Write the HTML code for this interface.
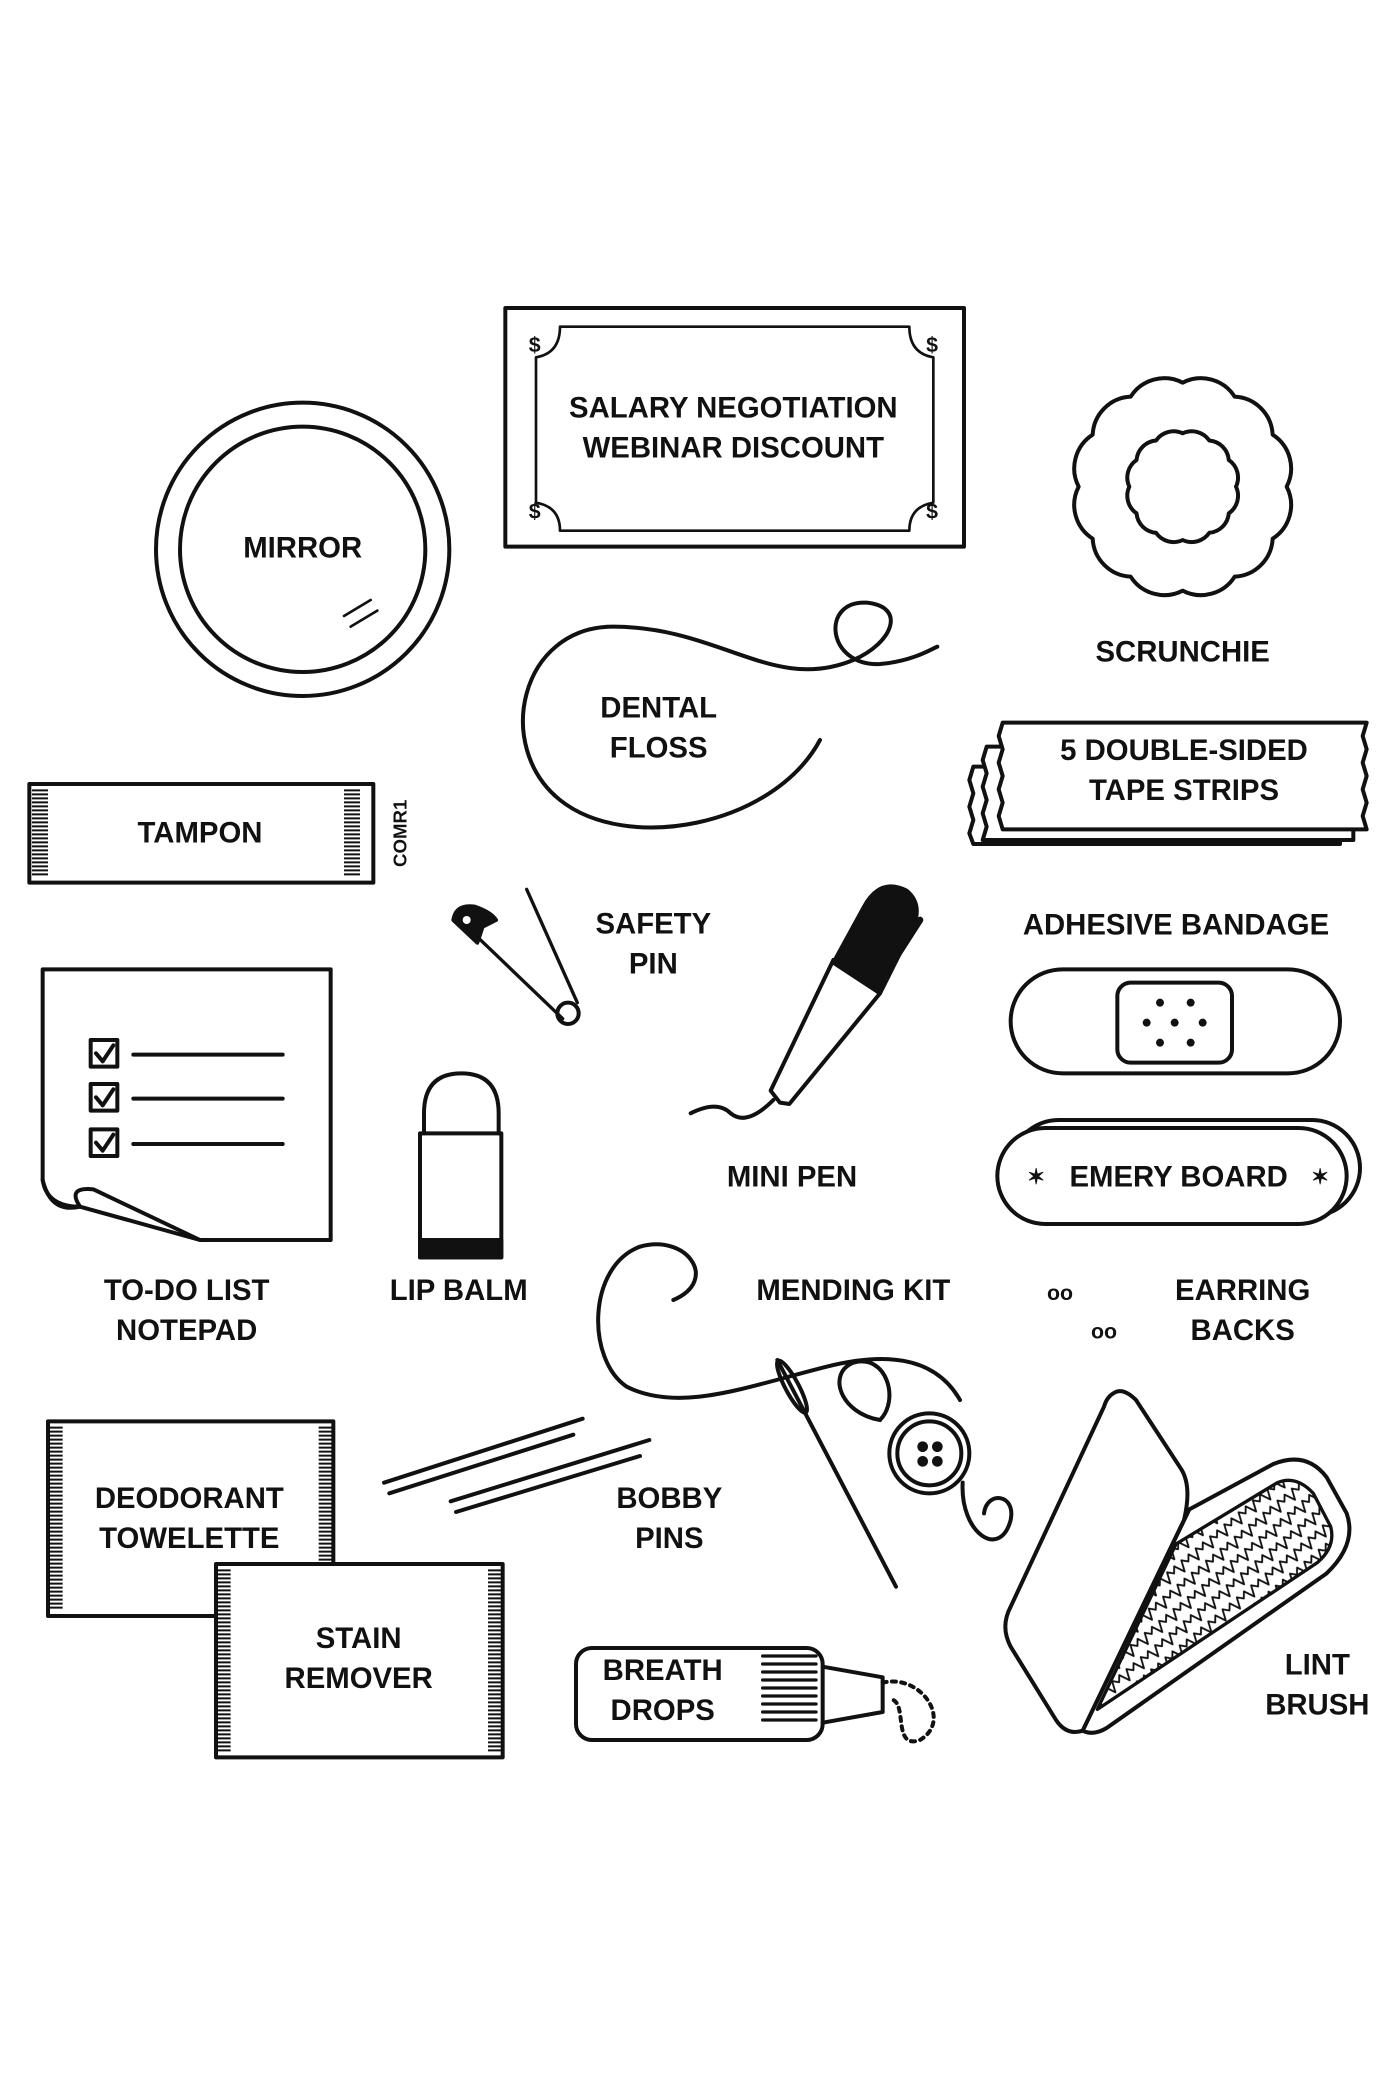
<!DOCTYPE html>
<html><head><meta charset="utf-8"><style>
html,body{margin:0;padding:0;background:#fff;}
svg{display:block;}
text{font-family:"Liberation Sans",sans-serif;font-weight:bold;font-size:22px;fill:#111;text-anchor:middle;}
</style></head><body>
<svg width="1400" height="2100" viewBox="0 0 1050 1575" xmlns="http://www.w3.org/2000/svg" fill="none" stroke="#111" stroke-width="3" stroke-linecap="round" stroke-linejoin="round">
<defs>
<pattern id="zz" width="14" height="12" patternUnits="userSpaceOnUse" patternTransform="rotate(-40)">
<path d="M0,6 l3.5,-4 l3.5,8 l3.5,-8 l3.5,4" stroke="#111" stroke-width="1.4" fill="none"/>
</pattern>
</defs>
<!-- Salary -->
<rect x="379" y="231" width="344" height="179"/>
<path d="M420,245 H682 Q682,265 700,268 V377 Q682,380 682,398 H420 Q420,380 402,377 V268 Q420,265 420,245Z" stroke-width="2"/>
<text x="401" y="264" style="font-size:16px" stroke="none">$</text><text x="699" y="264" style="font-size:16px" stroke="none">$</text>
<text x="401" y="389" style="font-size:16px" stroke="none">$</text><text x="699" y="389" style="font-size:16px" stroke="none">$</text>
<text x="550" y="313" stroke="none">SALARY NEGOTIATION</text>
<text x="550" y="343" stroke="none">WEBINAR DISCOUNT</text>
<!-- Mirror -->
<circle cx="227" cy="412" r="110"/><circle cx="227" cy="412" r="92"/>
<text x="227" y="418" stroke="none">MIRROR</text>
<path d="M258,462 L278,450 M263,470 L283,458" stroke-width="2"/>
<!-- Scrunchie -->
<path d="M965,365 A30,30 0 0 1 954.5,404 A30,30 0 0 1 926,432.5 A30,30 0 0 1 887,443 A30,30 0 0 1 848,432.5 A30,30 0 0 1 819.5,404 A30,30 0 0 1 809,365 A30,30 0 0 1 819.5,326 A30,30 0 0 1 848,297.5 A30,30 0 0 1 887,287 A30,30 0 0 1 926,297.5 A30,30 0 0 1 954.5,326 A30,30 0 0 1 965,365Z"/>
<path d="M927,365 A16,16 0 0 1 921.6,385 A16,16 0 0 1 907,399.6 A16,16 0 0 1 887,405 A16,16 0 0 1 867,399.6 A16,16 0 0 1 852.4,385 A16,16 0 0 1 847,365 A16,16 0 0 1 852.4,345 A16,16 0 0 1 867,330.4 A16,16 0 0 1 887,325 A16,16 0 0 1 907,330.4 A16,16 0 0 1 921.6,345 A16,16 0 0 1 927,365Z"/>
<text x="887" y="496" stroke="none">SCRUNCHIE</text>
<!-- Dental floss -->
<path d="M615,555 C580,620 470,640 420,600 C370,560 390,470 460,470 C540,470 580,520 640,495 C670,482 680,455 650,452 C615,450 620,500 660,498 C685,496 700,486 703,485"/>
<text x="494" y="538" stroke="none">DENTAL</text><text x="494" y="568" stroke="none">FLOSS</text>
<!-- Tape strips -->
<path d="M730,575 l-3,10 l3,10 l-3,10 l3,10 l-3,10 l3,8 H1005 V575Z" fill="#fff"/>
<path d="M740,560 l-3,10 l3,10 l-3,10 l3,10 l-3,10 l3,10 l-3,10 H1015 V560Z" fill="#fff"/>
<path d="M752,542 l-3,10 l3,10 l-3,10 l3,10 l-3,10 l3,10 l-3,10 l3,10 H1025 l-3,-10 l3,-10 l-3,-10 l3,-10 l-3,-10 l3,-10 l-3,-10 l3,-10Z" fill="#fff"/>
<text x="888" y="570" stroke="none">5 DOUBLE-SIDED</text><text x="888" y="600" stroke="none">TAPE STRIPS</text>
<!-- Tampon -->
<rect x="22" y="588" width="258" height="74"/>
<path d="M30,592 V658 M264,592 V658" stroke-width="12" stroke-dasharray="1.5 1.5" stroke-linecap="butt"/>
<text x="150" y="632" stroke="none">TAMPON</text>
<text transform="translate(305,625) rotate(-90)" style="font-size:14px" stroke="none">COMR1</text>
<!-- Safety pin -->
<path d="M350,695 L422,764 M395,667 L433,752" stroke-width="2.5"/>
<circle cx="426" cy="760" r="8"/>
<path d="M340,690 q2,-12 16,-10 q12,4 16,10 l-10,5 l-4,12z" fill="#111"/>
<circle cx="350" cy="690" r="3" fill="#fff" stroke="none"/>
<text x="490" y="700" stroke="none">SAFETY</text><text x="490" y="730" stroke="none">PIN</text>
<!-- Pen -->
<path d="M585,827 L578,818 L625,720 L660,745 L592,828Z"/>
<path d="M625,722 L648,680 Q660,658 680,668 Q692,678 685,695 L660,745Z" fill="#111"/>
<path d="M672,718 L690,690" stroke-width="5"/>
<path d="M518,835 q20,-10 30,0 q12,10 32,-10"/>
<text x="594" y="890" stroke="none">MINI PEN</text>
<!-- Bandage -->
<text x="882" y="701" stroke="none">ADHESIVE BANDAGE</text>
<rect x="758" y="727" width="247" height="78" rx="39"/>
<rect x="838" y="737" width="86" height="60" rx="10"/>
<g fill="#111" stroke="none"><circle cx="870" cy="752" r="3"/><circle cx="893" cy="752" r="3"/><circle cx="860" cy="767" r="3"/><circle cx="881" cy="767" r="3"/><circle cx="902" cy="767" r="3"/><circle cx="870" cy="782" r="3"/><circle cx="893" cy="782" r="3"/></g>
<!-- Emery -->
<rect x="758" y="840" width="262" height="72" rx="36"/>
<rect x="748" y="846" width="262" height="72" rx="36" fill="#fff"/>
<text x="884" y="890" stroke="none">EMERY BOARD</text>
<text x="777" y="888" style="font-size:16px" stroke="none">✶</text><text x="990" y="888" style="font-size:16px" stroke="none">✶</text>
<!-- Todo -->
<path d="M32,727 H248 V930 H150 L60,905 Q35,905 32,885Z"/>
<path d="M32,885 Q38,910 60,905 Q50,890 70,892 L150,930"/>
<rect x="68" y="780" width="20" height="20"/><rect x="68" y="813" width="20" height="20"/><rect x="68" y="847" width="20" height="20"/>
<path d="M72,790 l5,6 l8,-12 M72,823 l5,6 l8,-12 M72,857 l5,6 l8,-12 M100,791 H212 M100,824 H212 M100,858 H212"/>
<text x="140" y="975" stroke="none">TO-DO LIST</text><text x="140" y="1005" stroke="none">NOTEPAD</text>
<!-- Lip balm -->
<path d="M318,850 V835 Q318,805 346,805 Q374,805 374,835 V850"/>
<rect x="315" y="850" width="61" height="93"/>
<rect x="315" y="930" width="61" height="13" fill="#111"/>
<text x="344" y="975" stroke="none">LIP BALM</text>
<!-- Mending kit -->
<text x="640" y="975" stroke="none">MENDING KIT</text>
<path d="M505,975 C540,960 515,925 480,935 C440,950 440,1020 470,1040 C510,1060 560,1040 620,1025 C660,1015 700,1015 720,1050 M660,1065 C630,1060 620,1030 640,1022 C665,1015 675,1050 660,1065 M722,1112 C720,1150 750,1170 758,1140 C762,1120 740,1118 738,1135"/>
<path d="M583,1020 L672,1190"/><ellipse cx="594" cy="1040" rx="5" ry="22" transform="rotate(-28 594 1040)"/>
<circle cx="697" cy="1090" r="30"/><circle cx="697" cy="1090" r="24"/>
<g fill="#111" stroke="none"><circle cx="692" cy="1085" r="4"/><circle cx="703" cy="1085" r="4"/><circle cx="692" cy="1096" r="4"/><circle cx="703" cy="1096" r="4"/></g>
<!-- Earring backs -->
<text x="795" y="975" style="font-size:16px" stroke="none">oo</text><text x="828" y="1004" style="font-size:16px" stroke="none">oo</text>
<text x="932" y="975" stroke="none">EARRING</text><text x="932" y="1005" stroke="none">BACKS</text>
<!-- Deodorant -->
<rect x="36" y="1066" width="214" height="146"/>
<path d="M42,1070 V1208 M244,1070 V1208" stroke-width="10" stroke-dasharray="1.5 1.5" stroke-linecap="butt"/>
<text x="142" y="1131" stroke="none">DEODORANT</text><text x="142" y="1161" stroke="none">TOWELETTE</text>
<rect x="162" y="1173" width="215" height="145" fill="#fff"/>
<path d="M168,1177 V1314 M371,1177 V1314" stroke-width="10" stroke-dasharray="1.5 1.5" stroke-linecap="butt"/>
<text x="269" y="1236" stroke="none">STAIN</text><text x="269" y="1266" stroke="none">REMOVER</text>
<!-- Bobby pins -->
<path d="M288,1112 L437,1064 M292,1120 L430,1076 M338,1126 L487,1080 M342,1134 L480,1092"/>
<text x="502" y="1131" stroke="none">BOBBY</text><text x="502" y="1161" stroke="none">PINS</text>
<!-- Breath drops -->
<rect x="432" y="1236" width="185" height="69" rx="12"/>
<path d="M572,1242 H612 M572,1248 H612 M572,1254 H612 M572,1260 H612 M572,1266 H612 M572,1272 H612 M572,1278 H612 M572,1284 H612 M572,1290 H612" stroke-width="2.5"/>
<path d="M617,1250 L662,1258 V1284 L617,1292"/>
<path d="M662,1262 C690,1255 715,1290 690,1305 C670,1312 680,1280 670,1275" stroke-dasharray="3 4"/>
<text x="497" y="1260" stroke="none">BREATH</text><text x="497" y="1290" stroke="none">DROPS</text>
<!-- Lint brush -->
<path d="M812,1298 L892,1132 L955,1098 Q980,1088 995,1108 L1010,1135 Q1018,1158 995,1180 L830,1296 Q820,1302 812,1298Z" fill="#fff"/>
<path d="M823,1282 L882,1158 L958,1112 Q972,1106 985,1120 L998,1145 Q1002,1160 988,1172 Z" fill="url(#zz)" stroke-width="2.5"/>
<path d="M835,1045 Q842,1040 852,1050 L886,1102 Q894,1115 888,1140 L812,1298 Q800,1302 792,1290 L758,1235 Q750,1220 758,1205 L828,1055 Q830,1048 835,1045Z" fill="#fff"/>
<text x="988" y="1256" stroke="none">LINT</text><text x="988" y="1286" stroke="none">BRUSH</text>
</svg>
</body></html>
